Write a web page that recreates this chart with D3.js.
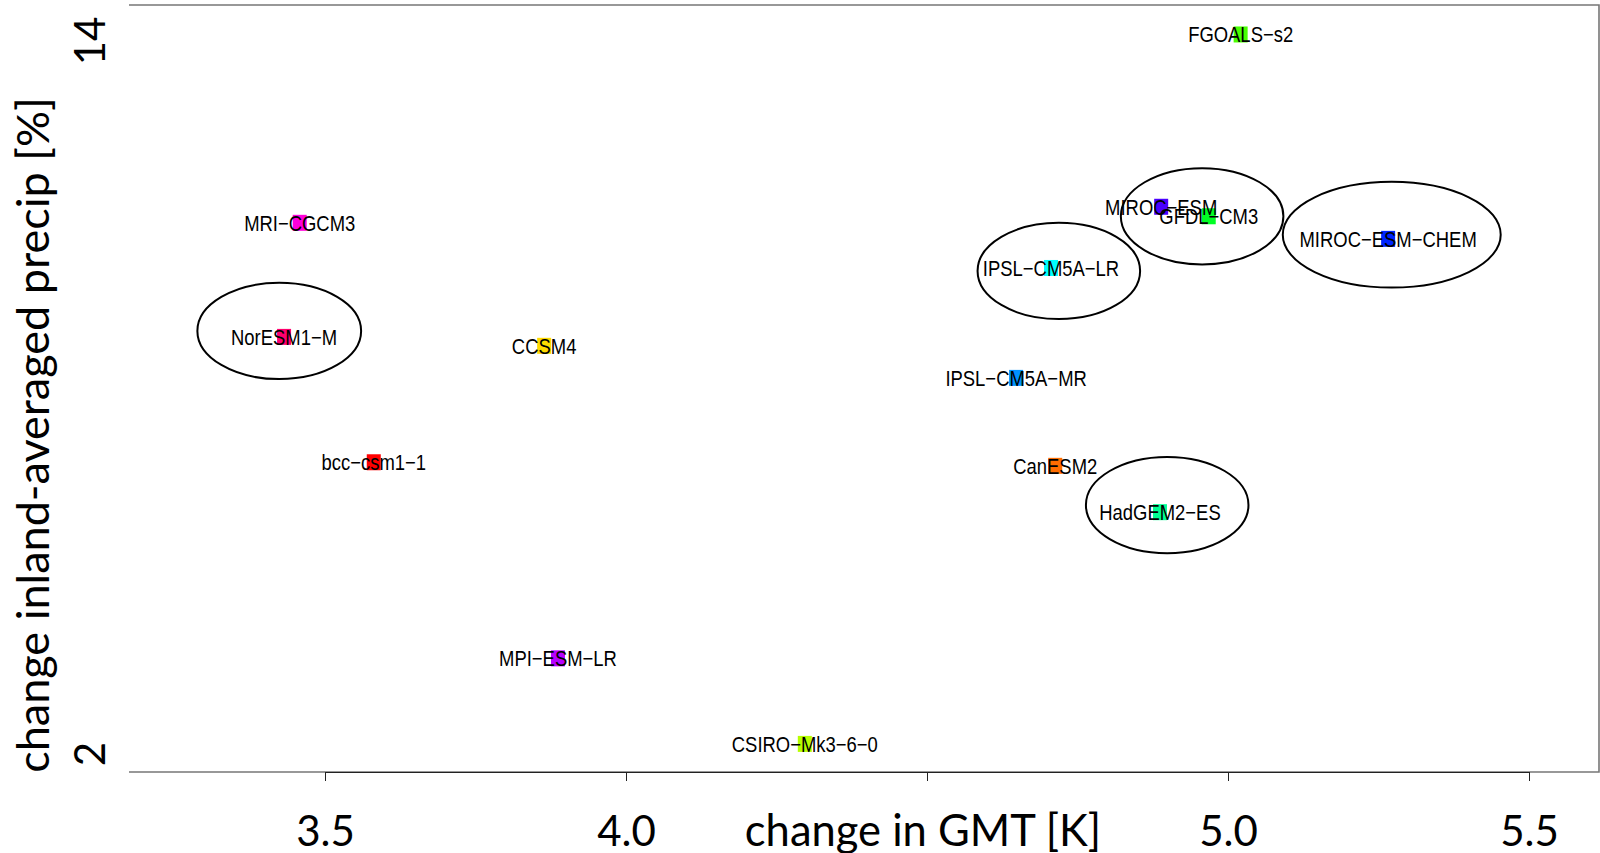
<!DOCTYPE html>
<html>
<head>
<meta charset="utf-8">
<script src="https://cdn.jsdelivr.net/npm/d3@7"></script>
<style>
  html, body { margin: 0; padding: 0; background: #fff; }
  svg { display: block; }
  .big { font-family: Lato, 'Open Sans', sans-serif; fill: #000; }
  .lbl { font-family: 'Liberation Sans', Arial, sans-serif; fill: #000; }
</style>
</head>
<body>
<svg class="chart" width="1600" height="853"></svg>
<script>
// models, in order of colour assignment
const models = ['bcc-csm1-1', 'CanESM2', 'CCSM4', 'CSIRO-Mk3-6-0', 'FGOALS-s2', 'GFDL-CM3', 'HadGEM2-ES',
  'IPSL-CM5A-LR', 'IPSL-CM5A-MR', 'MIROC-ESM-CHEM', 'MIROC-ESM', 'MPI-ESM-LR', 'MRI-CGCM3', 'NorESM1-M']
// change in GMT [K]
const gmt = [3.581, 4.713, 3.864, 4.297, 5.021, 4.968, 4.887, 4.706, 4.648, 5.266, 4.889, 3.887, 3.458, 3.432]
// change in inland-averaged precip [%]
const precip = [6.91, 6.85, 8.87, 2.17, 14.11, 11.05, 6.07, 10.18, 8.33, 10.67, 11.21, 3.61, 10.94, 9.02]
const colors = ['#FF0000', '#FF6D00', '#FFDB00', '#B6FF00', '#49FF00', '#00FF24', '#00FF92',
  '#00FFFF', '#0092FF', '#0024FF', '#4900FF', '#B600FF', '#FF00DB', '#FF006D']

// highlighted groups (ellipse centre and semi-axes in data units)
const ringX = [3.424, 4.719, 4.957, 5.272, 4.899]
const ringY = [9.12, 10.13, 11.05, 10.74, 6.19]
const ringRx = [0.136, 0.135, 0.135, 0.181, 0.135]
const ringRy = [0.81, 0.81, 0.81, 0.89, 0.81]

const xTicks = [3.5, 4.0, 4.5, 5.0, 5.5]
const xTickLabels = ['3.5', '4.0', '', '5.0', '5.5']
const yTicks = [2, 14]

const box = { left: 129, right: 1599, top: 5, bottom: 772 }

const svg = d3.select('svg.chart')

const x = d3.scaleLinear().domain([3.5, 5.5]).range([325, 1529])
const y = d3.scaleLinear().domain([2, 14]).range([754, 41])

// frame
svg.append('path')
  .attr('d', `M${box.left},${box.top}H${box.right}V${box.bottom}H${box.left}`)
  .attr('fill', 'none')
  .attr('stroke', '#777')
  .attr('stroke-width', 1.6)

// x axis
const xAxisG = svg.append('g')
  .attr('transform', `translate(0,${box.bottom})`)
  .call(d3.axisBottom(x).tickValues(xTicks).tickSize(9).tickFormat((d, i) => xTickLabels[i]))
xAxisG.select('.domain').attr('stroke', '#222').attr('stroke-width', 1.2)
  .attr('d', `M${x(3.5)},0.5H${x(5.5)}`)
xAxisG.selectAll('.tick line').attr('stroke', '#222')
xAxisG.selectAll('.tick text')
  .attr('class', 'big')
  .attr('y', 74)
  .attr('dy', 0)
  .style('font-size', '42px')

svg.append('text')
  .attr('class', 'big')
  .attr('x', x(4.5) - 4)
  .attr('y', box.bottom + 74)
  .attr('text-anchor', 'middle')
  .style('font-size', '43.5px')
  .text('change in GMT [K]')

// y axis labels (rotated, no line)
svg.append('g').selectAll('text')
  .data(yTicks)
  .join('text')
  .attr('class', 'big')
  .attr('transform', d => `translate(105,${y(d)}) rotate(-90)`)
  .attr('text-anchor', 'middle')
  .style('font-size', '42px')
  .text(d => d)

svg.append('text')
  .attr('class', 'big')
  .attr('transform', 'translate(49,435) rotate(-90)')
  .attr('text-anchor', 'middle')
  .style('font-size', '45px')
  .text('change inland-averaged precip [%]')

// points
const pts = models.map((m, i) => ({ name: m, gmt: gmt[i], precip: precip[i], color: colors[i] }))
const sq = 14

svg.append('g').selectAll('rect')
  .data(pts)
  .join('rect')
  .attr('x', d => x(d.gmt) - sq / 2)
  .attr('y', d => y(d.precip) - sq / 2 - 1)
  .attr('width', sq)
  .attr('height', sq + 2)
  .attr('fill', d => d.color)

// labels are drawn narrow (horizontally squeezed Helvetica)
svg.append('g').selectAll('text')
  .data(pts)
  .join('text')
  .attr('class', 'lbl')
  .attr('transform', d => `translate(${x(d.gmt)},${y(d.precip) + 8}) scale(0.82,1)`)
  .attr('text-anchor', 'middle')
  .style('font-size', '22.5px')
  .text(d => d.name.replace(/-/g, '\u2212'))

// rings
svg.append('g').selectAll('ellipse')
  .data(ringX.map((v, i) => i))
  .join('ellipse')
  .attr('cx', i => x(ringX[i]))
  .attr('cy', i => y(ringY[i]))
  .attr('rx', i => x(ringX[i] + ringRx[i]) - x(ringX[i]))
  .attr('ry', i => y(ringY[i] - ringRy[i]) - y(ringY[i]))
  .attr('fill', 'none')
  .attr('stroke', '#000')
  .attr('stroke-width', 2)
</script>
</body>
</html>
